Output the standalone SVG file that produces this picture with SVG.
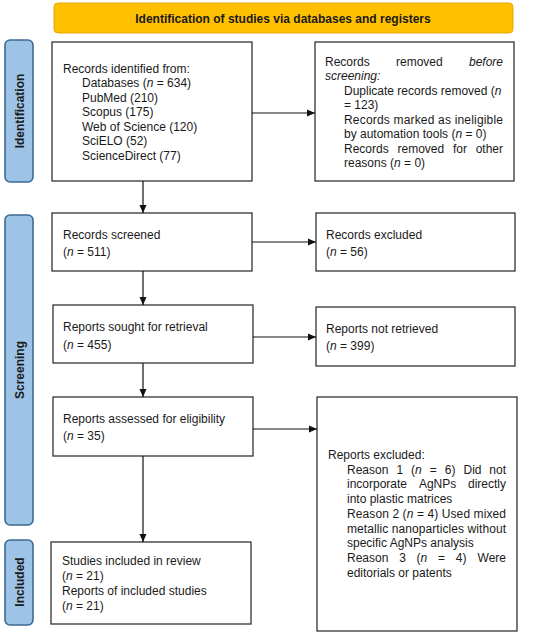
<svg xmlns="http://www.w3.org/2000/svg" width="550" height="636" viewBox="0 0 550 636">
<style>
text{font-family:"Liberation Sans",Arial,sans-serif;font-size:12px;fill:#1a1a1a}
.box{fill:#fff;stroke:#333;stroke-width:1.3}
.side{fill:#9DC3E6;stroke:#3d6a92;stroke-width:1.6}
.lab{font-weight:bold;font-size:12px}
.conn{stroke:#111;stroke-width:1.2;fill:none}
.e{text-anchor:end}
</style>
<defs>
<marker id="ah" markerUnits="userSpaceOnUse" markerWidth="9" markerHeight="8" refX="8" refY="4" orient="auto">
<path d="M0,0.5 L8,4 L0,7.5 z" fill="#111"/>
</marker>
</defs>
<rect width="550" height="636" fill="#fff"/>
<g id="banner">
<rect x="54" y="3" width="459" height="30" rx="4" fill="#FFC000" stroke="#E5A800" stroke-width="1"/>
<text x="283" y="22.5" text-anchor="middle" font-weight="bold">Identification of studies via databases and registers</text>
</g>
<g id="label-identification">
<rect class="side" x="5" y="40" width="28" height="142" rx="5"/>
<text class="lab" transform="translate(23.5,111) rotate(-90)" text-anchor="middle">Identification</text>
</g>
<g id="label-screening">
<rect class="side" x="5" y="215" width="28" height="310" rx="5"/>
<text class="lab" transform="translate(23.5,370) rotate(-90)" text-anchor="middle">Screening</text>
</g>
<g id="label-included">
<rect class="side" x="5" y="540" width="28" height="85" rx="5"/>
<text class="lab" transform="translate(23.5,582) rotate(-90)" text-anchor="middle">Included</text>
</g>
<g id="records-identified">
<rect class="box" x="52" y="42" width="200" height="139"/>
<text x="63" y="72.5">Records identified from:</text>
<text x="82" y="87">Databases (<tspan font-style="italic">n</tspan> = 634)</text>
<text x="82" y="101.6">PubMed (210)</text>
<text x="82" y="116.2">Scopus (175)</text>
<text x="82" y="130.8">Web of Science (120)</text>
<text x="82" y="145.4">SciELO (52)</text>
<text x="82" y="160">ScienceDirect (77)</text>
</g>
<g id="records-removed">
<rect class="box" x="315" y="42" width="199" height="139"/>
<text y="65.5"><tspan x="325">Records</tspan><tspan x="396">removed</tspan><tspan x="503" class="e" font-style="italic">before</tspan></text>
<text x="325" y="80" font-style="italic">screening:</text>
<text x="344" y="94.5">Duplicate records removed (<tspan font-style="italic">n</tspan></text>
<text x="344" y="109">= 123)</text>
<text x="344" y="123.5" textLength="159" lengthAdjust="spacing">Records marked as ineligible</text>
<text x="344" y="138">by automation tools (<tspan font-style="italic">n</tspan> = 0)</text>
<text y="152.5"><tspan x="344">Records</tspan><tspan x="397.5">removed</tspan><tspan x="453">for</tspan><tspan x="503" class="e">other</tspan></text>
<text x="344" y="167">reasons (<tspan font-style="italic">n</tspan> = 0)</text>
</g>
<g id="records-screened">
<rect class="box" x="52" y="213" width="200" height="58"/>
<text x="63" y="239">Records screened</text>
<text x="63" y="256">(<tspan font-style="italic">n</tspan> = 511)</text>
</g>
<g id="records-excluded">
<rect class="box" x="316" y="213" width="199" height="58"/>
<text x="326" y="239">Records excluded</text>
<text x="326" y="256">(<tspan font-style="italic">n</tspan> = 56)</text>
</g>
<g id="reports-sought">
<rect class="box" x="53" y="305" width="200" height="58"/>
<text x="63" y="331">Reports sought for retrieval</text>
<text x="63" y="349">(<tspan font-style="italic">n</tspan> = 455)</text>
</g>
<g id="reports-not-retrieved">
<rect class="box" x="316" y="307" width="199" height="59"/>
<text x="326" y="333">Reports not retrieved</text>
<text x="326" y="350">(<tspan font-style="italic">n</tspan> = 399)</text>
</g>
<g id="reports-assessed">
<rect class="box" x="53" y="397" width="200" height="59"/>
<text x="63" y="423">Reports assessed for eligibility</text>
<text x="63" y="440">(<tspan font-style="italic">n</tspan> = 35)</text>
</g>
<g id="reports-excluded">
<rect class="box" x="317" y="397" width="200" height="234"/>
<text x="328" y="459">Reports excluded:</text>
<text y="473.7"><tspan x="347">Reason</tspan><tspan x="396.4">1</tspan><tspan x="411.1">(</tspan><tspan font-style="italic">n</tspan><tspan x="429.8">=</tspan><tspan x="444.8">6)</tspan><tspan x="463.5">Did</tspan><tspan x="506" class="e">not</tspan></text>
<text y="488.4"><tspan x="347">incorporate</tspan><tspan x="418.9">AgNPs</tspan><tspan x="506" class="e">directly</tspan></text>
<text x="347" y="503.1">into plastic matrices</text>
<text x="347" y="517.8" textLength="159" lengthAdjust="spacing">Reason 2 (<tspan font-style="italic">n</tspan> = 4) Used mixed</text>
<text x="347" y="532.5" textLength="159" lengthAdjust="spacing">metallic nanoparticles without</text>
<text x="347" y="547.2">specific AgNPs analysis</text>
<text y="561.9"><tspan x="347">Reason</tspan><tspan x="399.2">3</tspan><tspan x="416.6">(</tspan><tspan font-style="italic">n</tspan><tspan x="438.1">=</tspan><tspan x="455.8">4)</tspan><tspan x="506" class="e">Were</tspan></text>
<text x="347" y="576.6">editorials or patents</text>
</g>
<g id="studies-included">
<rect class="box" x="51" y="542" width="200" height="82"/>
<text x="62" y="564.5">Studies included in review</text>
<text x="62" y="579.5">(<tspan font-style="italic">n</tspan> = 21)</text>
<text x="62" y="594.5">Reports of included studies</text>
<text x="62" y="609.5">(<tspan font-style="italic">n</tspan> = 21)</text>
</g>
<g id="connectors">
<line class="conn" x1="252" y1="113" x2="315" y2="113" marker-end="url(#ah)"/>
<line class="conn" x1="143" y1="181" x2="143" y2="213" marker-end="url(#ah)"/>
<line class="conn" x1="252" y1="242" x2="316" y2="242" marker-end="url(#ah)"/>
<line class="conn" x1="143" y1="271" x2="143" y2="305" marker-end="url(#ah)"/>
<line class="conn" x1="253" y1="337" x2="316" y2="337" marker-end="url(#ah)"/>
<line class="conn" x1="143" y1="363" x2="143" y2="397" marker-end="url(#ah)"/>
<line class="conn" x1="253" y1="429" x2="317" y2="429" marker-end="url(#ah)"/>
<line class="conn" x1="143" y1="456" x2="143" y2="542" marker-end="url(#ah)"/>
</g>
</svg>
